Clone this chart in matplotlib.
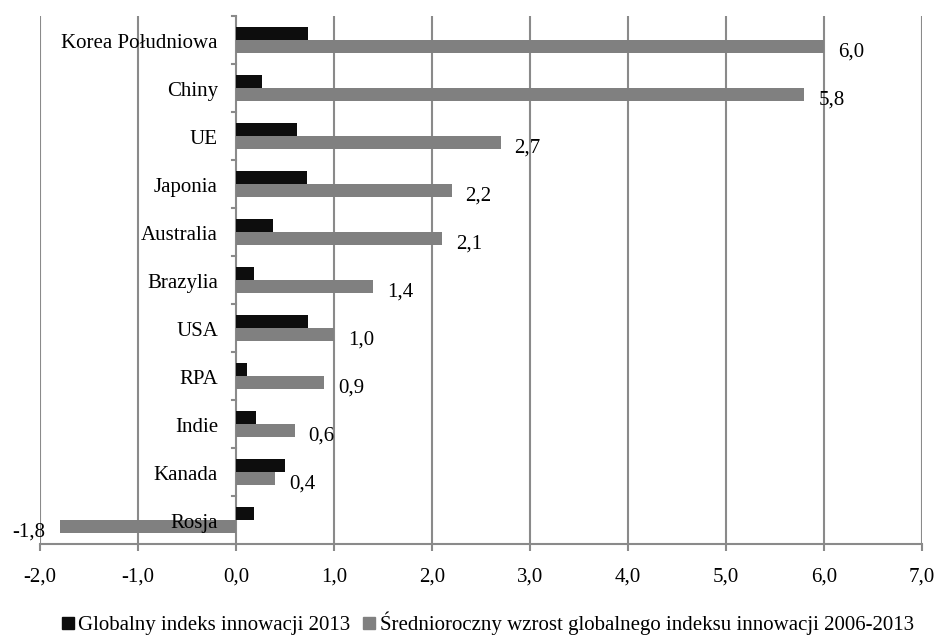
import matplotlib
matplotlib.use("Agg")
import matplotlib.pyplot as plt
from matplotlib.lines import Line2D
from matplotlib.ticker import FuncFormatter, FixedLocator
import numpy as np

plt.rcParams['font.family'] = ['Liberation Serif', 'DejaVu Serif']

categories = ["Korea Południowa", "Chiny", "UE", "Japonia", "Australia",
              "Brazylia", "USA", "RPA", "Indie", "Kanada", "Rosja"]
gii_2013 = [0.73, 0.27, 0.62, 0.72, 0.38, 0.18, 0.73, 0.11, 0.20, 0.50, 0.18]
growth_2006_2013 = [6.0, 5.8, 2.7, 2.2, 2.1, 1.4, 1.0, 0.9, 0.6, 0.4, -1.8]
series_names = ["Globalny indeks innowacji 2013",
                "Średnioroczny wzrost globalnego indeksu innowacji 2006-2013"]
x_ticks = [-2, -1, 0, 1, 2, 3, 4, 5, 6, 7]

FS = 15
BLACK = "#0d0d0d"
GRAY = "#808080"
GRID = "#8a8a8a"

fig = plt.figure(figsize=(9.38, 6.35), dpi=100)
ax = fig.add_axes([40 / 938, 1 - 544 / 635, (922 - 40) / 938, (544 - 16) / 635])

y = np.arange(len(categories))
h = 0.27
ax.barh(y - h / 2, gii_2013, height=h, color=BLACK, zorder=3)
ax.barh(y + h / 2, growth_2006_2013, height=h, color=GRAY, zorder=3)

ax.set_xlim(-2, 7)
ax.set_ylim(len(categories) - 0.5, -0.5)

# vertical gridlines
for xv in x_ticks:
    ax.axvline(xv, color=GRID, lw=1.5, zorder=1)

for s in ["top", "right", "left"]:
    ax.spines[s].set_visible(False)
ax.spines["bottom"].set_color(GRID)
ax.spines["bottom"].set_linewidth(1.5)

ax.xaxis.set_major_locator(FixedLocator(x_ticks))
ax.xaxis.set_major_formatter(FuncFormatter(lambda v, p: f"{v:.1f}".replace(".", ",")))
ax.tick_params(axis="x", length=5, width=1.5, color=GRID, labelsize=FS, pad=12)
ax.set_yticks([])

# small category separators on the zero axis
for yb in np.arange(-0.5, len(categories), 1.0):
    ax.plot([-0.04, 0], [yb, yb], color=GRID, lw=1.5, zorder=2, clip_on=False)

# category labels
for i, name in enumerate(categories):
    ax.annotate(name, xy=(0, i), xytext=(-13, -2.5), textcoords="offset points",
                ha="right", va="center", fontsize=FS, zorder=5)

# value labels for the growth series
for i, v in enumerate(growth_2006_2013):
    txt = f"{v:.1f}".replace(".", ",")
    if v >= 0:
        ax.annotate(txt, xy=(v, i + h / 2), xytext=(10, -4), textcoords="offset points",
                    ha="left", va="center", fontsize=FS, zorder=5)
    else:
        ax.annotate(txt, xy=(v, i + h / 2), xytext=(-10, -4), textcoords="offset points",
                    ha="right", va="center", fontsize=FS, zorder=5)

handles = [Line2D([], [], marker="s", linestyle="none", color=BLACK, markersize=8),
           Line2D([], [], marker="s", linestyle="none", color=GRAY, markersize=8)]
fig.legend(handles, series_names, loc="lower center", bbox_to_anchor=(0.52, -0.03),
           ncol=2, frameon=False, fontsize=FS, handlelength=0.6, handletextpad=0.2,
           columnspacing=0.6)

fig.savefig("out.png", dpi=100, facecolor="white")
